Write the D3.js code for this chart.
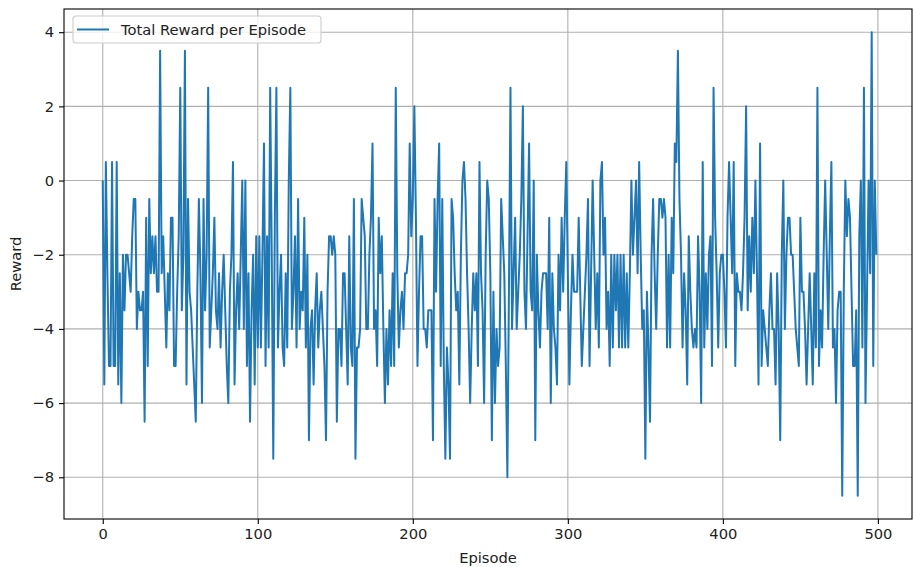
<!DOCTYPE html>
<html>
<head>
<meta charset="utf-8">
<script src="https://cdn.jsdelivr.net/npm/d3@7"></script>
<style>
  body { margin: 0; background: #fff; }
  text { font-family: "DejaVu Sans", sans-serif; }
</style>
</head>
<body>
<script>
// reward per episode (500 episodes, 0..499)
const rewards1 = [
  0, -5.5, 0.5, -2.5, -5, -5, 0.5, -5, -5, 0.5,
  -5.5, -2.5, -6, -2, -3.5, -2, -2, -2.5, -3, -1.5,
  -0.5, -0.5, -4, -3, -3.5, -3.5, -3, -6.5, -1, -5,
  -0.5, -2.5, -1.5, -2.5, -1.5, -3, -3, 3.5, -2.5, -1.5,
  -3, -4.5, -2.5, -3.5, -1, -1, -5, -5, -3, -1.5
];
const rewards2 = [
  2.5, -3.5, -2, 3.5, -5.5, -0.5, -3, -3.5, -4.5, -5.5,
  -6.5, -3, -0.5, -2.5, -6, -0.5, -3.5, -2, 2.5, -4.5,
  -3.5, -2.5, -1, -3.5, -4, -2.5, -4.5, -3, -2, -3.5,
  -5, -6, -3, -2, 0.5, -5.5, -3.5, -2.5, -4, -2,
  0, -4, 0, -5, -2.5, -6.5, -3.5, -2, -5.5, -1.5
];
const rewards3 = [
  -4.5, -1.5, -4.5, -2, 1, -5, -1.5, -4.5, 2.5, -2,
  -7.5, -1, 2.5, -4.5, -3, -2, -4.5, -5, -2.5, -4.5,
  0, 2.5, -4, -3, -1.5, -4.5, -0.5, -4, -3, -3.5,
  -1, -4.5, -2, -7, -4, -3.5, -5.5, -3.5, -2.5, -4.5,
  -3.5, -3, -4, -5, -7, -3, -1.5, -1.5, -2, -1.5
];
const rewards4 = [
  -2, -6.5, -4, -4, -5, -2.5, -2.5, -4, -5.5, -1.5,
  -4.5, -5, -0.5, -7.5, -4.5, -4.5, -4, -0.5, -1, -1.5,
  -4, -4, -2, -1, 1, -4, -3.5, -5, -1, -2.5,
  -1.5, -4, -6, -4, -5.5, -3.5, -5, -2.5, -5, 2.5,
  -2.5, -4.5, -3.5, -3, -4, -2.5, -2.5, -2, 1, -1.5
];
const rewards5 = [
  -0.5, 2, -1, -5, -3, -1.5, -1.5, -4, -4, -4.5,
  -3.5, -3.5, -3.5, -7, -0.5, -3, -0.5, 1, -5, -0.5,
  -5, -7.5, -4.5, -5.5, -7.5, -0.5, -1, -2.5, -3.5, -3,
  -5.5, -2, 0, 0.5, -0.5, -2.5, -4, -6, -4, -2.5,
  -3.5, -2.5, -5, 0.5, -2.5, -3.5, -6, -2, 0, -0.5
];
const rewards6 = [
  -2.5, -7, -3, -6, -4, -5, -4.5, -0.5, -1.5, -2.5,
  -5, -8, -3, 2.5, -4, -2.5, -1, -4, -3, -2,
  -0.5, 2, -3, -4, -1.5, 1, -3, -3.5, 0, -7,
  -2, -3.5, -4.5, -3, -2.5, -2.5, -2.5, -4, -1, -6,
  -2.5, -4, -4.5, -5.5, -2, -3.5, -1, -3, -1, 0.5
];
const rewards7 = [
  -2.5, -5.5, -3.5, -2, -3, -3, -3, -1, -3, -5,
  -4, -3, -2, -0.5, -5, -2.5, 0, -2, -4, -2.5,
  -4.5, 0, 0.5, -2, -1, -4, -3, -5, -2, -4.5,
  -2, -3.5, -2, -4.5, -2, -4.5, -2, -4.5, -2.5, -4.5,
  -2.5, 0, -2, -1, 0, -2.5, 0.5, -2, -4, -3.5
];
const rewards8 = [
  -7.5, -3, -4.5, -6.5, -2, -0.5, -2.5, -4, -2, -0.5,
  -0.5, -1, -0.5, -1, -4.5, -2, -4.5, -1, -2.5, 1,
  0.5, 3.5, -0.5, -2, -4.5, -2.5, -3.5, -5.5, -1.5, -3,
  -4, -4.5, -4, -4.5, -1.5, -3, -6, 0.5, -4.5, -2.5,
  -4, -2, -1.5, -5, 2.5, -1, -2.5, -4.5, -2.5, -2
];
const rewards9 = [
  -2, -3, -4.5, -1, 0.5, -1, -2.5, 0.5, -5, -2.5,
  -3, -3, -3.5, -2.5, -1, 2, -3.5, -1.5, -3, -1,
  -2.5, 0, -2.5, -5.5, 1, -5, -3.5, -4, -4.5, -5,
  -3.5, -2.5, -4, -4, -5.5, -2.5, -4, -7, -2, 0,
  -4, -2, -1, -1, -2, -2, -3, -4, -4.5, -5
];
const rewards10 = [
  -1, -3, -3, -4, -5.5, -4, -2.5, -4, -5.5, -2.5,
  -4.5, 2.5, -5, -3.5, -4.5, -2, 0, -2, -4, -1.5,
  0.5, -4.5, -4, -6, -3.5, -3, -3, -8.5, -3, 0,
  -1.5, -0.5, -1, -3, -5, -5, -3.5, -8.5, -1.5, 0,
  -4.5, 2.5, -6, -3, 0, -2.5, 4, -5, 0, -2
];
const rewards = [].concat(rewards1, rewards2, rewards3, rewards4, rewards5,
  rewards6, rewards7, rewards8, rewards9, rewards10);
const episodes = rewards.map((r, i) => i);

const xTicks = [0, 100, 200, 300, 400, 500];
const yTicks = [-8, -6, -4, -2, 0, 2, 4];
const seriesName = "Total Reward per Episode";

const W = 913, H = 567;
const plotLeft = 64, plotRight = 912, plotTop = 9, plotBottom = 519;
const lineColor = "#1f77b4";
const fontSize = "14.7px";

const svg = d3.select("body").append("svg")
  .attr("width", W)
  .attr("height", H);

const x = d3.scaleLinear().domain([-25, 522]).range([plotLeft, plotRight]);
const y = d3.scaleLinear().domain([-9.125, 4.625]).range([plotBottom, plotTop]);

// grid
svg.append("g").selectAll("line").data(xTicks).join("line")
  .attr("x1", d => x(d)).attr("x2", d => x(d))
  .attr("y1", plotTop).attr("y2", plotBottom)
  .attr("stroke", "#b0b0b0").attr("stroke-width", 1.1);
svg.append("g").selectAll("line").data(yTicks).join("line")
  .attr("x1", plotLeft).attr("x2", plotRight)
  .attr("y1", d => y(d)).attr("y2", d => y(d))
  .attr("stroke", "#b0b0b0").attr("stroke-width", 1.1);

// series
const line = d3.line()
  .x((d, i) => x(episodes[i]))
  .y(d => y(d));

svg.append("path")
  .datum(rewards)
  .attr("d", line)
  .attr("fill", "none")
  .attr("stroke", lineColor)
  .attr("stroke-width", 2)
  .attr("stroke-linejoin", "round");

// axes
const fmt = d3.format("d");
const xAxis = svg.append("g")
  .attr("transform", `translate(0,${plotBottom})`)
  .call(d3.axisBottom(x).tickValues(xTicks).tickFormat(fmt).tickSize(5).tickPadding(5));
const yAxis = svg.append("g")
  .attr("transform", `translate(${plotLeft},0)`)
  .call(d3.axisLeft(y).tickValues(yTicks).tickFormat(fmt).tickSize(5).tickPadding(5));

[xAxis, yAxis].forEach(g => {
  g.select(".domain").remove();
  g.selectAll(".tick line").attr("stroke", "#000").attr("stroke-width", 1.1);
  g.selectAll(".tick text")
    .attr("fill", "#222")
    .style("font-size", fontSize)
    .style("font-family", "DejaVu Sans, sans-serif");
});

// frame
svg.append("rect")
  .attr("x", plotLeft).attr("y", plotTop)
  .attr("width", plotRight - plotLeft).attr("height", plotBottom - plotTop)
  .attr("fill", "none").attr("stroke", "#000").attr("stroke-width", 1.1);

// axis titles
svg.append("text")
  .attr("x", (plotLeft + plotRight) / 2).attr("y", 563)
  .attr("text-anchor", "middle")
  .attr("fill", "#222")
  .style("font-size", fontSize)
  .text("Episode");

svg.append("text")
  .attr("transform", `translate(21,${(plotTop + plotBottom) / 2}) rotate(-90)`)
  .attr("text-anchor", "middle")
  .attr("fill", "#222")
  .style("font-size", fontSize)
  .text("Reward");

// legend
const lg = svg.append("g").attr("transform", "translate(73,16)");
lg.append("rect")
  .attr("width", 248).attr("height", 27)
  .attr("rx", 3)
  .attr("fill", "#fff").attr("fill-opacity", 0.8)
  .attr("stroke", "#cccccc").attr("stroke-width", 1.1);
lg.append("line")
  .attr("x1", 4).attr("x2", 36)
  .attr("y1", 13.5).attr("y2", 13.5)
  .attr("stroke", lineColor).attr("stroke-width", 2);
lg.append("text")
  .attr("x", 48).attr("y", 18.5)
  .attr("fill", "#222")
  .style("font-size", fontSize)
  .text(seriesName);
</script>
</body>
</html>
